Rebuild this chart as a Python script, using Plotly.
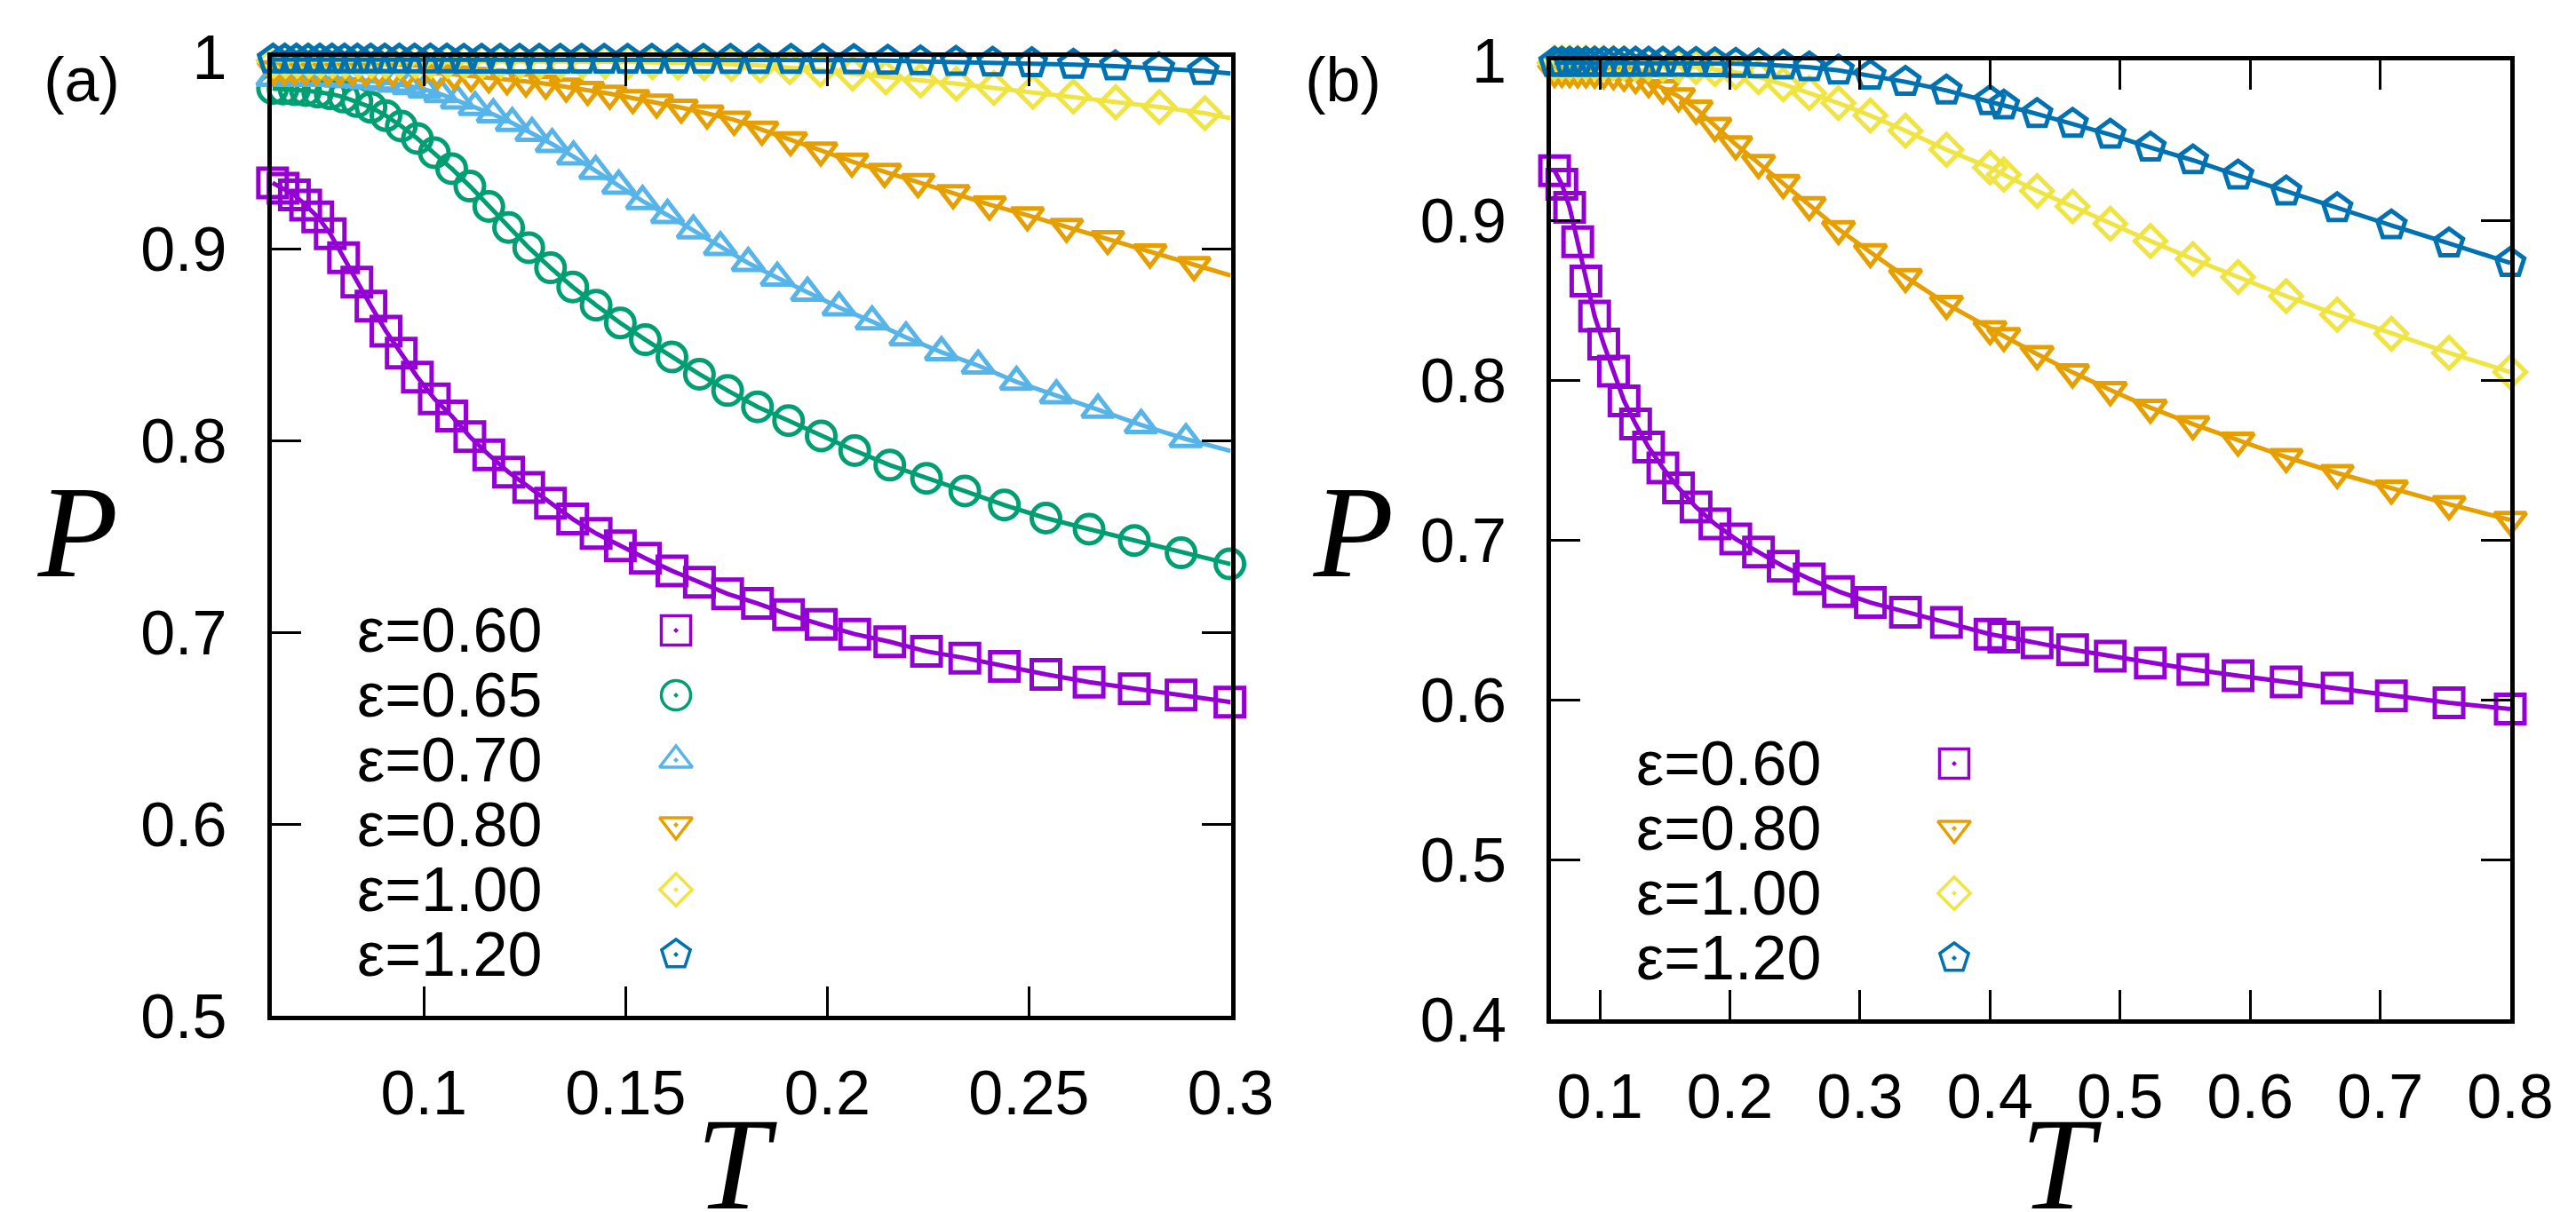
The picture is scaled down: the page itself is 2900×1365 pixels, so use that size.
import plotly.graph_objects as go

# ===================== data =====================
# ---- panel (a) ----
T_A_SQ = [0.0625, 0.0651, 0.0679, 0.0707, 0.0737, 0.0768, 0.0801, 0.0834, 0.0869, 0.0906,
          0.0944, 0.0984, 0.1026, 0.1069, 0.1114, 0.1161, 0.1210, 0.1260, 0.1314, 0.1369,
          0.1427, 0.1487, 0.1549, 0.1615, 0.1683, 0.1753, 0.1827, 0.1904, 0.1985, 0.2068,
          0.2155, 0.2246, 0.2341, 0.2439, 0.2542, 0.2649, 0.2761, 0.2877, 0.2998]
P_A_060 = [0.9343, 0.9315, 0.9280, 0.9227, 0.9165, 0.9077, 0.8953, 0.8825, 0.8700, 0.8570,
           0.8455, 0.8330, 0.8217, 0.8127, 0.8020, 0.7925, 0.7834, 0.7755, 0.7672, 0.7590,
           0.7515, 0.7450, 0.7385, 0.7320, 0.7260, 0.7200, 0.7150, 0.7092, 0.7040, 0.6990,
           0.6950, 0.6900, 0.6865, 0.6822, 0.6780, 0.6740, 0.6705, 0.6672, 0.6635]
P_A_065 = [0.9835, 0.9832, 0.9829, 0.9824, 0.9816, 0.9807, 0.9790, 0.9767, 0.9737, 0.9693,
           0.9639, 0.9574, 0.9500, 0.9417, 0.9326, 0.9220, 0.9110, 0.9005, 0.8900, 0.8800,
           0.8705, 0.8612, 0.8525, 0.8435, 0.8345, 0.8260, 0.8175, 0.8103, 0.8023, 0.7947,
           0.7871, 0.7802, 0.7736, 0.7663, 0.7595, 0.7537, 0.7478, 0.7414, 0.7356]

T_A_070 = [0.0626, 0.0651, 0.0677, 0.0704, 0.0732, 0.0761, 0.0792, 0.0823, 0.0856, 0.0891,
           0.0926, 0.0963, 0.1002, 0.1042, 0.1083, 0.1127, 0.1172, 0.1219, 0.1268, 0.1318,
           0.1371, 0.1426, 0.1483, 0.1542, 0.1604, 0.1668, 0.1735, 0.1804, 0.1876, 0.1951,
           0.2029, 0.2111, 0.2195, 0.2283, 0.2374, 0.2469, 0.2568, 0.2671, 0.2778, 0.2889]
P_A_070 = [0.9890, 0.9890, 0.9890, 0.9890, 0.9890, 0.9890, 0.9887, 0.9883, 0.9877, 0.9870,
           0.9860, 0.9847, 0.9830, 0.9805, 0.9772, 0.9738, 0.9700, 0.9655, 0.9603, 0.9545,
           0.9480, 0.9405, 0.9328, 0.9248, 0.9175, 0.9095, 0.9008, 0.8925, 0.8848, 0.8770,
           0.8693, 0.8620, 0.8537, 0.8460, 0.8390, 0.8305, 0.8235, 0.8160, 0.8080, 0.8007]

T_A_080 = [0.0629, 0.0654, 0.0679, 0.0706, 0.0733, 0.0762, 0.0792, 0.0823, 0.0855, 0.0888,
           0.0923, 0.0959, 0.0996, 0.1035, 0.1075, 0.1117, 0.1161, 0.1206, 0.1253, 0.1302,
           0.1353, 0.1406, 0.1461, 0.1518, 0.1577, 0.1638, 0.1702, 0.1769, 0.1838, 0.1909,
           0.1984, 0.2061, 0.2142, 0.2225, 0.2312, 0.2402, 0.2496, 0.2593, 0.2695, 0.2800,
           0.2909]
P_A_080 = [0.9935, 0.9935, 0.9935, 0.9934, 0.9934, 0.9933, 0.9932, 0.9931, 0.9930, 0.9928,
           0.9926, 0.9923, 0.9919, 0.9914, 0.9908, 0.9900, 0.9893, 0.9883, 0.9872, 0.9860,
           0.9845, 0.9828, 0.9808, 0.9785, 0.9762, 0.9735, 0.9705, 0.9672, 0.9620, 0.9565,
           0.9512, 0.9454, 0.9400, 0.9347, 0.9289, 0.9230, 0.9174, 0.9114, 0.9050, 0.8980,
           0.8914]

T_A_100 = [0.0628, 0.0657, 0.0686, 0.0715, 0.0744, 0.0774, 0.0805, 0.0837, 0.0870, 0.0905,
           0.0941, 0.0979, 0.1018, 0.1059, 0.1101, 0.1145, 0.1191, 0.1239, 0.1288, 0.1340,
           0.1393, 0.1449, 0.1507, 0.1567, 0.1630, 0.1695, 0.1763, 0.1834, 0.1907, 0.1983,
           0.2063, 0.2145, 0.2231, 0.2320, 0.2413, 0.2510, 0.2610, 0.2715, 0.2823, 0.2936]
P_A_100 = [0.9980, 0.9980, 0.9980, 0.9980, 0.9980, 0.9980, 0.9980, 0.9979, 0.9979, 0.9979,
           0.9979, 0.9978, 0.9978, 0.9978, 0.9978, 0.9978, 0.9978, 0.9978, 0.9977, 0.9977,
           0.9976, 0.9975, 0.9974, 0.9972, 0.9970, 0.9967, 0.9962, 0.9955, 0.9946, 0.9932,
           0.9913, 0.9893, 0.9877, 0.9860, 0.9838, 0.9817, 0.9793, 0.9763, 0.9738, 0.9706]

T_A_120 = [0.0626, 0.0655, 0.0684, 0.0713, 0.0742, 0.0772, 0.0803, 0.0835, 0.0868, 0.0903,
           0.0939, 0.0977, 0.1016, 0.1057, 0.1099, 0.1143, 0.1189, 0.1237, 0.1286, 0.1338,
           0.1391, 0.1447, 0.1505, 0.1565, 0.1628, 0.1693, 0.1760, 0.1830, 0.1910, 0.1989,
           0.2066, 0.2150, 0.2231, 0.2319, 0.2410, 0.2507, 0.2610, 0.2714, 0.2822, 0.2932]
P_A_120 = [0.9986, 0.9986, 0.9986, 0.9986, 0.9986, 0.9986, 0.9986, 0.9986, 0.9986, 0.9986,
           0.9986, 0.9986, 0.9986, 0.9986, 0.9985, 0.9985, 0.9985, 0.9985, 0.9985, 0.9985,
           0.9985, 0.9985, 0.9985, 0.9985, 0.9985, 0.9985, 0.9984, 0.9984, 0.9984, 0.9984,
           0.9983, 0.9980, 0.9977, 0.9974, 0.9970, 0.9967, 0.9959, 0.9951, 0.9941, 0.9926]

# value of each fitted curve where it meets the right frame, T = 0.3
T_A_END = 0.3
P_A_END = [0.6635, 0.7356, 0.7945, 0.8860, 0.9680, 0.9913]

# ---- panel (b) ----
T_B = [0.0652, 0.0708, 0.0768, 0.0830, 0.0893, 0.0960, 0.1030, 0.1105, 0.1186, 0.1275,
       0.1375, 0.1485, 0.1605, 0.1740, 0.1885, 0.2045, 0.2220, 0.2410, 0.2610, 0.2835,
       0.3080, 0.3350, 0.3665, 0.4000, 0.4106, 0.4362, 0.4635, 0.4925, 0.5233, 0.5560,
       0.5907, 0.6277, 0.6669, 0.7086, 0.7529, 0.8000]
P_B_060 = [0.9310, 0.9225, 0.9080, 0.8865, 0.8620, 0.8400, 0.8225, 0.8056, 0.7870, 0.7725,
           0.7580, 0.7450, 0.7325, 0.7205, 0.7100, 0.7005, 0.6923, 0.6835, 0.6756, 0.6677,
           0.6608, 0.6547, 0.6483, 0.6410, 0.6392, 0.6355, 0.6312, 0.6272, 0.6229, 0.6189,
           0.6150, 0.6111, 0.6072, 0.6024, 0.5981, 0.5941]
P_B_080 = [0.9928, 0.9928, 0.9927, 0.9926, 0.9925, 0.9923, 0.9920, 0.9915, 0.9905, 0.9890,
           0.9865, 0.9826, 0.9775, 0.9698, 0.9590, 0.9475, 0.9358, 0.9233, 0.9095, 0.8945,
           0.8800, 0.8645, 0.8477, 0.8318, 0.8275, 0.8162, 0.8048, 0.7937, 0.7827, 0.7724,
           0.7621, 0.7518, 0.7418, 0.7321, 0.7223, 0.7125]
P_B_100 = [0.9985, 0.9985, 0.9985, 0.9985, 0.9985, 0.9984, 0.9984, 0.9983, 0.9982, 0.9980,
           0.9978, 0.9975, 0.9968, 0.9958, 0.9945, 0.9925, 0.9895, 0.9850, 0.9795, 0.9733,
           0.9655, 0.9560, 0.9441, 0.9329, 0.9285, 0.9183, 0.9086, 0.8978, 0.8870, 0.8757,
           0.8644, 0.8525, 0.8409, 0.8290, 0.8170, 0.8050]
P_B_120 = [0.9985, 0.9985, 0.9985, 0.9985, 0.9985, 0.9985, 0.9985, 0.9985, 0.9985, 0.9985,
           0.9985, 0.9985, 0.9985, 0.9984, 0.9982, 0.9979, 0.9975, 0.9968, 0.9957, 0.9937,
           0.9905, 0.9866, 0.9812, 0.9745, 0.9718, 0.9665, 0.9604, 0.9535, 0.9455, 0.9375,
           0.9280, 0.9180, 0.9076, 0.8968, 0.8855, 0.8733]

EPS_A = ["0.60", "0.65", "0.70", "0.80", "1.00", "1.20"]
EPS_B = ["0.60", "0.80", "1.00", "1.20"]

X_TICKS_A = [0.1, 0.15, 0.2, 0.25, 0.3]
X_TEXT_A = ["0.1", "0.15", "0.2", "0.25", "0.3"]
Y_TICKS_A = [0.5, 0.6, 0.7, 0.8, 0.9, 1.0]
Y_TEXT_A = ["0.5", "0.6", "0.7", "0.8", "0.9", "1"]
X_TICKS_B = [0.1, 0.2, 0.3, 0.4, 0.5, 0.6, 0.7, 0.8]
X_TEXT_B = ["0.1", "0.2", "0.3", "0.4", "0.5", "0.6", "0.7", "0.8"]
Y_TICKS_B = [0.4, 0.5, 0.6, 0.7, 0.8, 0.9, 1.0]
Y_TEXT_B = ["0.4", "0.5", "0.6", "0.7", "0.8", "0.9", "1"]

# ===================== style =====================
W, H = 2900, 1365
C = {"0.60": "#9400D3", "0.65": "#009E73", "0.70": "#56B4E9",
     "0.80": "#E69F00", "1.00": "#F0E442", "1.20": "#0072B2"}
SYM = {"0.60": "square", "0.65": "circle", "0.70": "triangle-up",
       "0.80": "triangle-down", "1.00": "diamond", "1.20": "pentagon"}
SIZE = {"0.60": 32, "0.65": 32, "0.70": 31, "0.80": 31, "1.00": 27, "1.20": 33}
SANS = "Liberation Sans, Arial, Helvetica, sans-serif"
SERIF = "Liberation Serif, Times New Roman, serif"
FS = 70

# plot-area frames in pixels (left, top, right, bottom)
FRAME_A = (305.5, 64, 1385.5, 1144)
FRAME_B = (1746, 68, 2826, 1148)

fig = go.Figure()


def add_curve(xa, ya, T, P, eps, lineT=None, lineP=None):
    fig.add_trace(go.Scatter(
        x=lineT if lineT is not None else T, y=lineP if lineP is not None else P,
        mode="lines", line=dict(color=C[eps], width=5),
        xaxis=xa, yaxis=ya, showlegend=False, hoverinfo="skip"))
    fig.add_trace(go.Scatter(
        x=T, y=P, mode="markers", cliponaxis=False,
        marker=dict(symbol=SYM[eps] + "-open", size=SIZE[eps], color=C[eps],
                    line=dict(color=C[eps], width=5)),
        xaxis=xa, yaxis=ya, showlegend=False))


series_a = [(T_A_SQ, P_A_060), (T_A_SQ, P_A_065), (T_A_070, P_A_070),
            (T_A_080, P_A_080), (T_A_100, P_A_100), (T_A_120, P_A_120)]
for (T, P), eps, pend in zip(series_a, EPS_A, P_A_END):
    add_curve("x", "y", T, P, eps, T + [T_A_END], P + [pend])

series_b = [P_B_060, P_B_080, P_B_100, P_B_120]
for P, eps in zip(series_b, EPS_B):
    add_curve("x2", "y2", T_B, P, eps)

# ---------- legends (symbols drawn on a pixel-space overlay axis) ----------
LEG_A = dict(tx=612, sx=761, y0=710, dy=73)
LEG_B = dict(tx=2052, sx=2200, y0=860, dy=73)
annotations = []
for leg, labels in ((LEG_A, EPS_A), (LEG_B, EPS_B)):
    for i, eps in enumerate(labels):
        yy = leg["y0"] + i * leg["dy"]
        annotations.append(dict(
            text="\u03b5=" + eps, x=leg["tx"] / W, y=1 - yy / H, xref="paper", yref="paper",
            xanchor="right", yanchor="middle", showarrow=False,
            font=dict(family=SANS, size=FS, color="black")))
        fig.add_trace(go.Scatter(
            x=[leg["sx"]], y=[yy], mode="markers", cliponaxis=False,
            marker=dict(symbol=SYM[eps] + "-open-dot", size=SIZE[eps] + 1, color=C[eps],
                        line=dict(color=C[eps], width=3.5)),
            xaxis="x3", yaxis="y3", showlegend=False, hoverinfo="skip"))

# ---------- axis titles and panel labels (text placed on the pixel-space overlay axis) ----------
LABELS = [("P", 88, 612, SERIF, 148, "italic"), ("T", 825, 1324, SERIF, 148, "italic"),
          ("P", 1524, 612, SERIF, 148, "italic"), ("T", 2316, 1324, SERIF, 148, "italic"),
          ("(a)", 92, 96, SANS, 70, "normal"), ("(b)", 1512, 96, SANS, 70, "normal")]
for txt, px, py, fam, size, style in LABELS:
    fig.add_trace(go.Scatter(
        x=[px], y=[py], mode="text", text=[txt], textposition="middle center",
        textfont=dict(family=fam, size=size, color="black", style=style),
        cliponaxis=False, xaxis="x3", yaxis="y3", showlegend=False, hoverinfo="skip"))


def axis_common():
    return dict(showline=True, linewidth=5, linecolor="black", mirror="ticks",
                ticks="inside", ticklen=33, tickwidth=3, tickcolor="black",
                showgrid=False, zeroline=False, tickmode="array", automargin=False,
                tickfont=dict(family=SANS, size=FS, color="black"))


def dom_x(fr):
    return [fr[0] / W, fr[2] / W]


def dom_y(fr):
    return [1 - fr[3] / H, 1 - fr[1] / H]


fig.update_layout(
    template="none",
    width=W, height=H, margin=dict(l=0, r=0, t=0, b=0, pad=0, autoexpand=False),
    paper_bgcolor="white", plot_bgcolor="rgba(0,0,0,0)", showlegend=False,
    annotations=annotations,
    xaxis=dict(**axis_common(), domain=dom_x(FRAME_A), range=[0.0622, 0.3], anchor="y",
               tickvals=X_TICKS_A, ticktext=X_TEXT_A, ticklabelstandoff=22),
    yaxis=dict(**axis_common(), domain=dom_y(FRAME_A), range=[0.5, 1.0], anchor="x",
               tickvals=Y_TICKS_A, ticktext=Y_TEXT_A, ticklabelstandoff=31),
    xaxis2=dict(**axis_common(), domain=dom_x(FRAME_B), range=[0.0624, 0.8], anchor="y2",
                tickvals=X_TICKS_B, ticktext=X_TEXT_B, ticklabelstandoff=22),
    yaxis2=dict(**axis_common(), domain=dom_y(FRAME_B), range=[0.4, 1.0], anchor="x2",
                tickvals=Y_TICKS_B, ticktext=Y_TEXT_B, ticklabelstandoff=31),
    xaxis3=dict(domain=[0, 1], range=[0, W], visible=False, anchor="y3", fixedrange=True,
                automargin=False),
    yaxis3=dict(domain=[0, 1], range=[H, 0], visible=False, anchor="x3", fixedrange=True,
                automargin=False),
)

fig.write_html("out.html")
